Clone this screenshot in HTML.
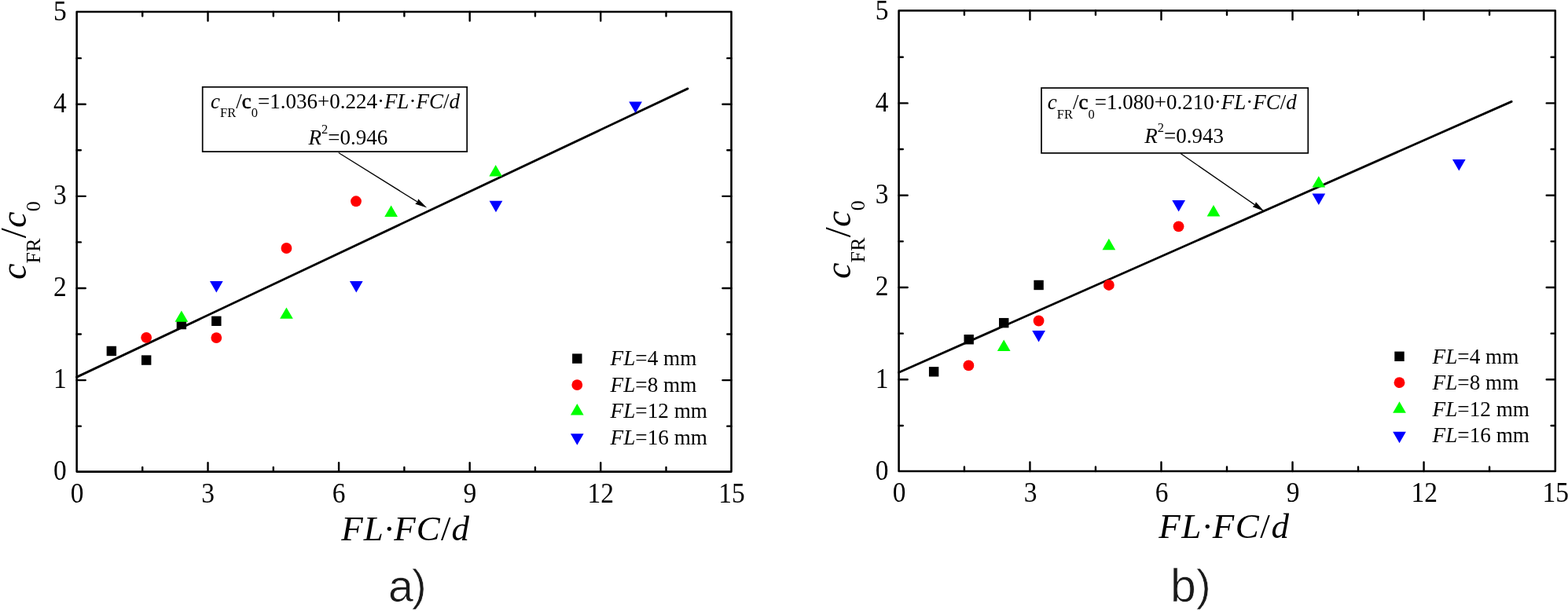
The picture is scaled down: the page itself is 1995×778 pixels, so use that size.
<!DOCTYPE html>
<html lang="en">
<head>
<meta charset="utf-8">
<title>Figure</title>
<style>
html,body{margin:0;padding:0;background:#fff;}
body{width:1995px;height:778px;overflow:hidden;}
svg{display:block;}
text{font-family:"Liberation Serif", serif;fill:#000;}
.tl{font-size:36px;}
.eq{font-size:27px;}
.lg{font-size:27.2px;}
.ax{font-size:45px;font-style:italic;letter-spacing:1.55px;}
.ay{font-size:46px;font-style:italic;letter-spacing:0.2px;}
.ns{font-style:normal;font-size:47px;}
.asub{font-size:26px;font-style:normal;}
.n{font-style:normal;}
.sub{font-size:16.5px;font-style:normal;}
.i{font-style:italic;}
.b{stroke:#000;stroke-width:0.55px;}
.cap{font-family:"Liberation Sans", sans-serif;font-size:55px;fill:#1a1a1a;letter-spacing:0px;stroke:#fff;stroke-width:0.7px;paint-order:fill;}
</style>
</head>
<body>
<svg width="1995" height="778" viewBox="0 0 1995 778">
<rect x="0" y="0" width="1995" height="778" fill="#ffffff"/>
<g id="panel-a">
<rect x="97.65" y="15.0" width="832.85" height="585.60" fill="none" stroke="#000" stroke-width="2.55" stroke-linejoin="round"/>
<path d="M181.24,600.6v-5.6 M181.24,15.0v5.6 M264.52,600.6v-11.5 M264.52,15.0v11.5 M347.81,600.6v-5.6 M347.81,15.0v5.6 M431.09,600.6v-11.5 M431.09,15.0v11.5 M514.38,600.6v-5.6 M514.38,15.0v5.6 M597.66,600.6v-11.5 M597.66,15.0v11.5 M680.94,600.6v-5.6 M680.94,15.0v5.6 M764.23,600.6v-11.5 M764.23,15.0v11.5 M847.51,600.6v-5.6 M847.51,15.0v5.6 M97.65,542.64h5.2 M930.5,542.64h-5.2 M97.65,484.08h11.1 M930.5,484.08h-11.1 M97.65,425.52h5.2 M930.5,425.52h-5.2 M97.65,366.96h11.1 M930.5,366.96h-11.1 M97.65,308.40h5.2 M930.5,308.40h-5.2 M97.65,249.84h11.1 M930.5,249.84h-11.1 M97.65,191.28h5.2 M930.5,191.28h-5.2 M97.65,132.72h11.1 M930.5,132.72h-11.1 M97.65,74.16h5.2 M930.5,74.16h-5.2" stroke="#000" stroke-width="2.4" stroke-linecap="round" fill="none"/>
<text transform="translate(98.05,640.20) scale(0.93,1)" text-anchor="middle" class="tl">0</text>
<text transform="translate(264.62,640.20) scale(0.93,1)" text-anchor="middle" class="tl">3</text>
<text transform="translate(431.19,640.20) scale(0.93,1)" text-anchor="middle" class="tl">6</text>
<text transform="translate(597.76,640.20) scale(0.93,1)" text-anchor="middle" class="tl">9</text>
<text transform="translate(764.33,640.20) scale(0.93,1)" text-anchor="middle" class="tl">12</text>
<text transform="translate(930.90,640.20) scale(0.93,1)" text-anchor="middle" class="tl">15</text>
<text transform="translate(84.65,611.30) scale(0.93,1)" text-anchor="end" class="tl">0</text>
<text transform="translate(84.65,494.18) scale(0.93,1)" text-anchor="end" class="tl">1</text>
<text transform="translate(84.65,377.06) scale(0.93,1)" text-anchor="end" class="tl">2</text>
<text transform="translate(84.65,259.94) scale(0.93,1)" text-anchor="end" class="tl">3</text>
<text transform="translate(84.65,142.82) scale(0.93,1)" text-anchor="end" class="tl">4</text>
<text transform="translate(84.65,25.70) scale(0.93,1)" text-anchor="end" class="tl">5</text>
<line x1="97.65" y1="480.16" x2="874.98" y2="112.88" stroke="#000" stroke-width="2.85" stroke-linecap="round"/>
<rect x="135.67" y="440.77" width="12.40" height="12.40" fill="#000000"/>
<rect x="179.99" y="452.38" width="12.40" height="12.40" fill="#000000"/>
<rect x="224.71" y="406.88" width="12.40" height="12.40" fill="#000000"/>
<rect x="269.12" y="402.62" width="12.40" height="12.40" fill="#000000"/>
<circle cx="186.19" cy="429.78" r="6.9" fill="#ff0000"/>
<circle cx="275.32" cy="430.10" r="6.9" fill="#ff0000"/>
<circle cx="364.46" cy="316.00" r="6.9" fill="#ff0000"/>
<circle cx="453.00" cy="256.27" r="6.9" fill="#ff0000"/>
<polygon points="230.91,395.38 239.26,409.83 222.56,409.83" fill="#00ff00"/>
<polygon points="364.46,391.40 372.81,405.85 356.11,405.85" fill="#00ff00"/>
<polygon points="497.62,261.52 505.97,275.97 489.27,275.97" fill="#00ff00"/>
<polygon points="630.67,210.09 639.02,224.54 622.32,224.54" fill="#00ff00"/>
<polygon points="275.32,372.52 283.67,358.07 266.97,358.07" fill="#0000ff"/>
<polygon points="453.30,372.42 461.65,357.97 444.95,357.97" fill="#0000ff"/>
<polygon points="630.97,270.22 639.32,255.77 622.62,255.77" fill="#0000ff"/>
<polygon points="808.55,144.03 816.90,129.58 800.20,129.58" fill="#0000ff"/>
<rect x="257.7" y="110.8" width="336.50" height="82.30" fill="#fff" stroke="#000" stroke-width="1.7"/>
<text x="268.0" y="137.6" class="eq"><tspan class="i">c</tspan><tspan class="sub" dy="11.3">FR</tspan><tspan dy="-11.3">/</tspan><tspan class="b">c</tspan><tspan class="sub" dy="11.3">0</tspan><tspan dy="-11.3">=1.036+0.224·</tspan><tspan class="i">FL</tspan>·<tspan class="i">FC</tspan>/<tspan class="i">d</tspan></text>
<text x="392.6" y="184.0" class="eq"><tspan class="i">R</tspan><tspan class="sub" dy="-14">2</tspan><tspan dy="14">=0.946</tspan></text>
<line x1="430.8" y1="194.5" x2="531.07" y2="257.03" stroke="#000" stroke-width="1.3"/>
<polygon points="543.20,264.60 528.26,259.64 531.07,257.03 532.18,253.36" fill="#000"/>
<rect x="728.10" y="450.40" width="12.40" height="12.40" fill="#000000"/>
<text x="776.6" y="465.3" class="lg"><tspan class="i">FL</tspan>=4 mm</text>
<circle cx="734.30" cy="490.10" r="6.9" fill="#ff0000"/>
<text x="776.6" y="498.9" class="lg"><tspan class="i">FL</tspan>=8 mm</text>
<polygon points="734.30,514.00 742.65,528.45 725.95,528.45" fill="#00ff00"/>
<text x="776.6" y="532.3" class="lg"><tspan class="i">FL</tspan>=12 mm</text>
<polygon points="734.30,566.70 742.65,552.25 725.95,552.25" fill="#0000ff"/>
<text x="776.6" y="566.0" class="lg"><tspan class="i">FL</tspan>=16 mm</text>
<text x="516.2" y="688.0" text-anchor="middle" class="ax" style="letter-spacing:1.1px">FL·FC<tspan class="n">/</tspan>d</text>
<text transform="translate(32.9,356.0) rotate(-90)" class="ay">c<tspan class="asub" dy="17.6">FR</tspan><tspan class="ns" dy="-17.6">/</tspan>c<tspan class="asub" dy="17.6">0</tspan></text>
<text class="cap"><tspan x="494.0" y="765.5" font-size="57.5">a</tspan><tspan x="524.0" y="764.0" font-size="56">)</tspan></text>
</g>
<g id="panel-b">
<rect x="1143.6" y="13.5" width="835.20" height="586.50" fill="none" stroke="#000" stroke-width="2.55" stroke-linejoin="round"/>
<path d="M1226.92,600.0v-5.6 M1226.92,13.5v5.6 M1310.44,600.0v-11.5 M1310.44,13.5v11.5 M1393.96,600.0v-5.6 M1393.96,13.5v5.6 M1477.48,600.0v-11.5 M1477.48,13.5v11.5 M1561.00,600.0v-5.6 M1561.00,13.5v5.6 M1644.52,600.0v-11.5 M1644.52,13.5v11.5 M1728.04,600.0v-5.6 M1728.04,13.5v5.6 M1811.56,600.0v-11.5 M1811.56,13.5v11.5 M1895.08,600.0v-5.6 M1895.08,13.5v5.6 M1143.6,541.95h5.2 M1978.8,541.95h-5.2 M1143.6,483.30h11.1 M1978.8,483.30h-11.1 M1143.6,424.65h5.2 M1978.8,424.65h-5.2 M1143.6,366.00h11.1 M1978.8,366.00h-11.1 M1143.6,307.35h5.2 M1978.8,307.35h-5.2 M1143.6,248.70h11.1 M1978.8,248.70h-11.1 M1143.6,190.05h5.2 M1978.8,190.05h-5.2 M1143.6,131.40h11.1 M1978.8,131.40h-11.1 M1143.6,72.75h5.2 M1978.8,72.75h-5.2" stroke="#000" stroke-width="2.4" stroke-linecap="round" fill="none"/>
<text transform="translate(1144.00,639.00) scale(0.93,1)" text-anchor="middle" class="tl">0</text>
<text transform="translate(1311.04,639.00) scale(0.93,1)" text-anchor="middle" class="tl">3</text>
<text transform="translate(1478.08,639.00) scale(0.93,1)" text-anchor="middle" class="tl">6</text>
<text transform="translate(1645.12,639.00) scale(0.93,1)" text-anchor="middle" class="tl">9</text>
<text transform="translate(1812.16,639.00) scale(0.93,1)" text-anchor="middle" class="tl">12</text>
<text transform="translate(1979.20,639.00) scale(0.93,1)" text-anchor="middle" class="tl">15</text>
<text transform="translate(1130.60,611.00) scale(0.93,1)" text-anchor="end" class="tl">0</text>
<text transform="translate(1130.60,493.70) scale(0.93,1)" text-anchor="end" class="tl">1</text>
<text transform="translate(1130.60,376.40) scale(0.93,1)" text-anchor="end" class="tl">2</text>
<text transform="translate(1130.60,259.10) scale(0.93,1)" text-anchor="end" class="tl">3</text>
<text transform="translate(1130.60,141.80) scale(0.93,1)" text-anchor="end" class="tl">4</text>
<text transform="translate(1130.60,24.50) scale(0.93,1)" text-anchor="end" class="tl">5</text>
<line x1="1143.60" y1="474.22" x2="1923.12" y2="129.35" stroke="#000" stroke-width="2.85" stroke-linecap="round"/>
<rect x="1181.94" y="467.12" width="12.40" height="12.40" fill="#000000"/>
<rect x="1226.49" y="426.06" width="12.40" height="12.40" fill="#000000"/>
<rect x="1271.03" y="404.95" width="12.40" height="12.40" fill="#000000"/>
<rect x="1315.38" y="356.78" width="12.40" height="12.40" fill="#000000"/>
<circle cx="1232.39" cy="465.41" r="6.9" fill="#ff0000"/>
<circle cx="1321.58" cy="408.50" r="6.9" fill="#ff0000"/>
<circle cx="1410.86" cy="362.98" r="6.9" fill="#ff0000"/>
<circle cx="1499.55" cy="288.28" r="6.9" fill="#ff0000"/>
<polygon points="1277.23,432.47 1285.58,446.92 1268.88,446.92" fill="#00ff00"/>
<polygon points="1410.86,303.81 1419.21,318.27 1402.51,318.27" fill="#00ff00"/>
<polygon points="1544.00,261.11 1552.35,275.56 1535.65,275.56" fill="#00ff00"/>
<polygon points="1677.83,224.15 1686.18,238.60 1669.48,238.60" fill="#00ff00"/>
<polygon points="1321.58,435.40 1329.93,420.95 1313.23,420.95" fill="#0000ff"/>
<polygon points="1499.65,269.40 1508.00,254.95 1491.30,254.95" fill="#0000ff"/>
<polygon points="1677.83,260.99 1686.18,246.54 1669.48,246.54" fill="#0000ff"/>
<polygon points="1856.30,217.42 1864.65,202.97 1847.95,202.97" fill="#0000ff"/>
<rect x="1325.0" y="112.0" width="339.30" height="82.90" fill="#fff" stroke="#000" stroke-width="1.7"/>
<text x="1332.8" y="139.4" class="eq"><tspan class="i">c</tspan><tspan class="sub" dy="11.3">FR</tspan><tspan dy="-11.3">/</tspan><tspan class="b">c</tspan><tspan class="sub" dy="11.3">0</tspan><tspan dy="-11.3">=1.080+0.210·</tspan><tspan class="i">FL</tspan>·<tspan class="i">FC</tspan>/<tspan class="i">d</tspan></text>
<text x="1456.2" y="182.3" class="eq"><tspan class="i">R</tspan><tspan class="sub" dy="-14">2</tspan><tspan dy="14">=0.943</tspan></text>
<line x1="1502.2" y1="195.5" x2="1596.64" y2="260.86" stroke="#000" stroke-width="1.3"/>
<polygon points="1608.40,269.00 1593.71,263.34 1596.64,260.86 1597.92,257.25" fill="#000"/>
<rect x="1774.30" y="447.60" width="12.40" height="12.40" fill="#000000"/>
<text x="1822.6" y="462.6" class="lg"><tspan class="i">FL</tspan>=4 mm</text>
<circle cx="1780.50" cy="487.20" r="6.9" fill="#ff0000"/>
<text x="1822.6" y="496.1" class="lg"><tspan class="i">FL</tspan>=8 mm</text>
<polygon points="1780.50,511.30 1788.85,525.75 1772.15,525.75" fill="#00ff00"/>
<text x="1822.6" y="529.5" class="lg"><tspan class="i">FL</tspan>=12 mm</text>
<polygon points="1780.50,564.20 1788.85,549.75 1772.15,549.75" fill="#0000ff"/>
<text x="1822.6" y="563.3" class="lg"><tspan class="i">FL</tspan>=16 mm</text>
<text x="1557.9" y="684.8" text-anchor="middle" class="ax" style="letter-spacing:1.55px">FL·FC<tspan class="n">/</tspan>d</text>
<text transform="translate(1082.0,355.0) rotate(-90)" class="ay">c<tspan class="asub" dy="17.6">FR</tspan><tspan class="ns" dy="-17.6">/</tspan>c<tspan class="asub" dy="17.6">0</tspan></text>
<text class="cap"><tspan x="1489.0" y="765.5" font-size="59">b</tspan><tspan x="1522.0" y="764.0" font-size="56">)</tspan></text>
</g>
</svg>
</body>
</html>
